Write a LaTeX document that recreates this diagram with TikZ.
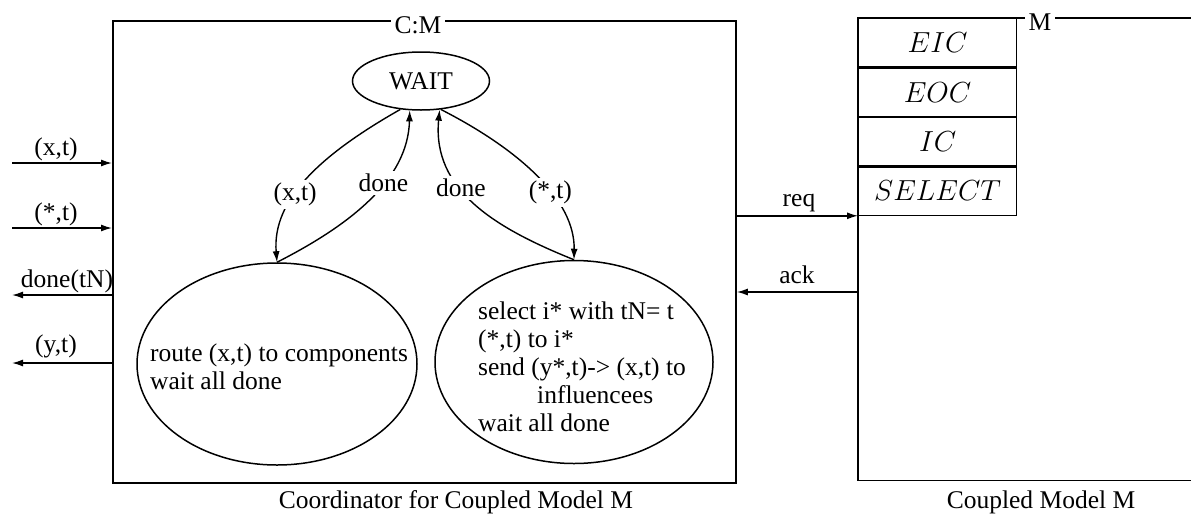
\RequirePackage{fix-cm}
\documentclass[tikz,border=0pt]{standalone}
\usepackage{fontspec}
\setmainfont{Liberation Serif}
\usetikzlibrary{shapes.geometric,arrows.meta}
\begin{document}
\begin{tikzpicture}[x=1pt,y=-1pt,
  every node/.style={font=\fontsize{25.5}{28}\selectfont, inner sep=0pt},
  frame/.style={draw, line width=1.8pt},
  state/.style={draw, ellipse, line width=1.5pt, inner sep=0pt},
  arr/.style={line width=1.4pt, -{Latex[length=11pt,width=7pt]}},
  lbl/.style={fill=white, inner sep=3pt},
  cell/.style={draw, line width=1.2pt, minimum width=158pt, minimum height=48.25pt,
               anchor=north west, font=\fontsize{29}{29}\selectfont}]
\useasboundingbox (0,0) rectangle (1191,517);

% coordinator frame
\node[frame, minimum width=623pt, minimum height=462pt, anchor=north west] (cm) at (112,20) {};
\node[lbl, inner sep=4pt] (cmname) at (418,25) {C:M};

% coupled model frame (open to the right)
\node[minimum width=333pt, minimum height=462pt, anchor=north west] (m) at (858,18) {};
\draw[frame] (m.north east) -- (m.north west) -- (m.south west) -- (m.south east);
\node[lbl, inner sep=4pt] (mname) at (1040,22) {M};

% model parts
\node[cell] (eic) at (858,18) {$EIC$};
\node[cell] (eoc) at (eic.south west) {$EOC$};
\node[cell] (ic) at (eoc.south west) {$IC$};
\node[cell] (select) at (ic.south west) {$SELECT$};

% states
\node[state, minimum width=137pt, minimum height=58pt] (wait) at (421,81) {WAIT};
\node[state, minimum width=280pt, minimum height=202pt] (route) at (277,364) {};
\node[anchor=west, align=left] (routetext) at (150,367) {route (x,t) to components\\wait all done};
\node[state, minimum width=278pt, minimum height=203pt] (star) at (574,362) {};
\node[anchor=west, align=left] (startext) at (478,367)
  {select i* with tN= t\\(*,t) to i*\\send (y*,t)-> (x,t) to\\\hspace*{59pt}influencees\\wait all done};

% transitions
\draw[arr] (wait.-126) .. controls (320,155) and (272,200) .. (route.north)
  node[lbl, pos=0.6] (t1) {(x,t)};
\draw[arr] (route.north) .. controls (350,225) and (408,180) .. (wait.-111)
  node[lbl, pos=0.6] (t2) {done};
\draw[arr] (star.north) .. controls (495,228) and (432,190) .. (wait.-57)
  node[lbl, pos=0.6] (t3) {done};
\draw[arr] (wait.-55) .. controls (520,150) and (575,200) .. (star.north)
  node[lbl, pos=0.6] (t4) {(*,t)};

% external ports
\coordinate (pin1) at (12,163);
\coordinate (pin2) at (12,228);
\coordinate (pout1) at (12,295);
\coordinate (pout2) at (12,363);
\draw[arr] (pin1) -- (pin1 -| cm.west);
\draw[arr] (pin2) -- (pin2 -| cm.west);
\draw[arr] (pout1 -| cm.west) -- (pout1);
\draw[arr] (pout2 -| cm.west) -- (pout2);
\node[anchor=base] (lin1) at (56,155) {(x,t)};
\node[anchor=base] (lin2) at (56,220) {(*,t)};
\node[anchor=base] (lout1) at (67,287) {done(tN)};
\node[anchor=base] (lout2) at (56,352) {(y,t)};

% request / acknowledge
\draw[arr] (cm.east |- select.south west) -- (select.south west);
\node[anchor=base] (lreq) at (799,206) {req};
\coordinate (ackp) at (858,292);
\draw[arr] (ackp) -- (ackp -| cm.east);
\node[anchor=base] (lack) at (797,283) {ack};

% captions
\node[anchor=base] (cap1) at (456,508) {Coordinator for Coupled Model M};
\node[anchor=base] (cap2) at (1041,508) {Coupled Model M};
\end{tikzpicture}
\end{document}
